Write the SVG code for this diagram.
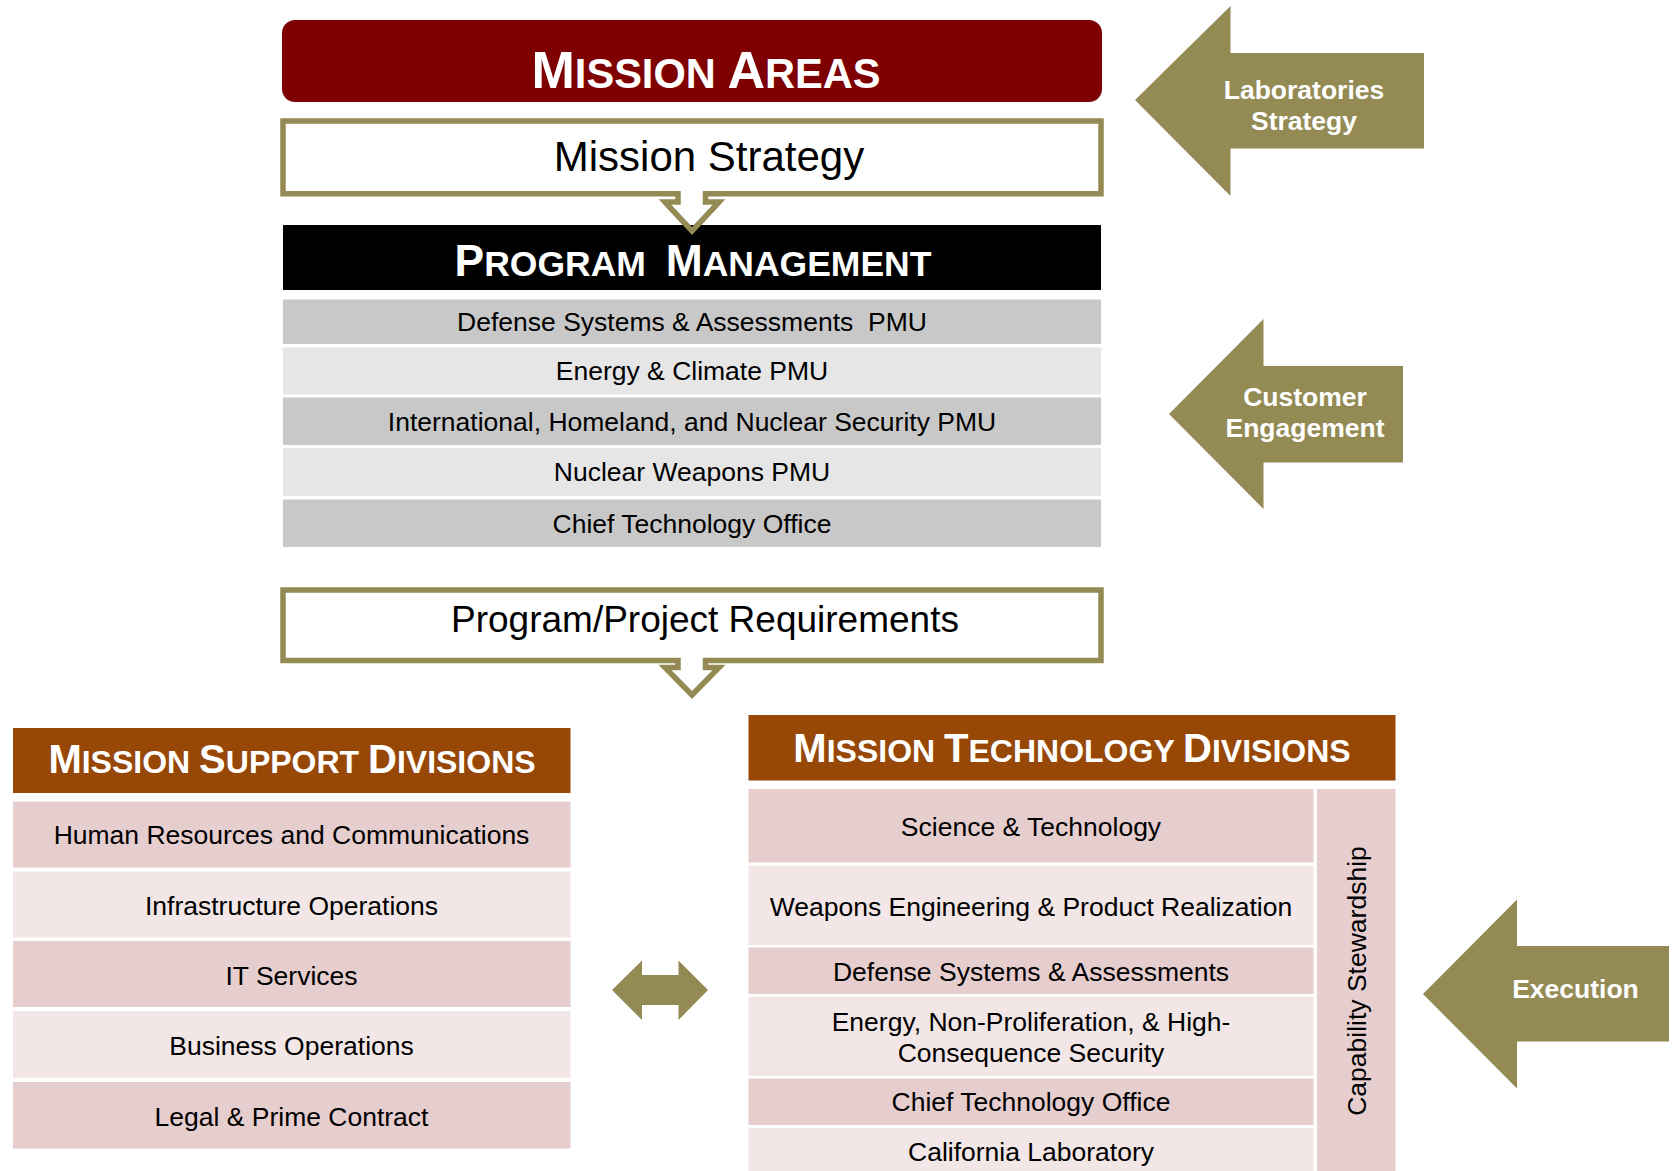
<svg xmlns="http://www.w3.org/2000/svg" width="1674" height="1171" viewBox="0 0 1674 1171">
<style>
text{font-family:"Liberation Sans",Arial,sans-serif;white-space:pre}
.t{font-size:26.5px;fill:#000;text-anchor:middle}
.big{font-weight:bold;fill:#fff;text-anchor:middle}
.lbl{font-weight:bold;fill:#fff;font-size:26.5px;text-anchor:middle}
.gold{fill:#948a54}
.call{fill:#fff;stroke:#948a54;stroke-width:5.5;stroke-linejoin:miter}
.g1{fill:#c8c8c8}.g2{fill:#e6e6e6}
.p1{fill:#e6cdce}.p2{fill:#f2e6e6}
.hdr{fill:#974706}
</style>
<rect width="1674" height="1171" fill="#fff"/>

<g id="mission-areas">
<rect x="282" y="20" width="820" height="82" rx="13" fill="#7f0000"/>
<text class="big" x="706" y="88"><tspan font-size="52">M</tspan><tspan font-size="41.6">ISSION </tspan><tspan font-size="52">A</tspan><tspan font-size="41.6">REAS</tspan></text>
</g>

<g id="mission-strategy">
<path class="call" d="M283,121 H1101 V193.7 H705.5 V202 H719 L692,231 L665,202 H678 V193.7 H283 Z"/>
<text x="709" y="171" font-size="42" text-anchor="middle">Mission Strategy</text>
</g>

<g id="program-management">
<rect x="283" y="225" width="818" height="65" fill="#000"/>
<text class="big" x="693" y="276" xml:space="preserve"><tspan font-size="44.4">P</tspan><tspan font-size="35.5">ROGRAM  </tspan><tspan font-size="44.4">M</tspan><tspan font-size="35.5">ANAGEMENT</tspan></text>
</g>

<g id="connectors">
<path d="M665,202 L692,231 L719,202" fill="none" stroke="#948a54" stroke-width="5.5"/>
<path class="gold" d="M612,990 L642,960.5 V975 H678.5 V960.5 L708,990 L678.5,1020 V1005 H642 V1020 Z"/>
</g>

<g id="pm-rows">
<rect class="g1" x="283" y="299.5" width="818" height="44.5"/>
<text class="t" x="692" y="331" xml:space="preserve">Defense Systems &amp; Assessments  PMU</text>
<rect class="g2" x="283" y="347.5" width="818" height="47"/>
<text class="t" x="692" y="380">Energy &amp; Climate PMU</text>
<rect class="g1" x="283" y="397.5" width="818" height="47.5"/>
<text class="t" x="692" y="430.5">International, Homeland, and Nuclear Security PMU</text>
<rect class="g2" x="283" y="448" width="818" height="48"/>
<text class="t" x="692" y="481">Nuclear Weapons PMU</text>
<rect class="g1" x="283" y="499.5" width="818" height="47.5"/>
<text class="t" x="692" y="532.5">Chief Technology Office</text>
</g>

<g id="program-project-requirements">
<path class="call" d="M283,590 H1101 V660.5 H705.5 V667.5 H719 L692,695 L665,667.5 H678 V660.5 H283 Z"/>
<text x="705" y="632" font-size="37" text-anchor="middle">Program/Project Requirements</text>
</g>

<g id="laboratories-strategy">
<path class="gold" d="M1135,100 L1230.5,6 V53 H1424 V148.5 H1230.5 V196 Z"/>
<text class="lbl" x="1304" y="99">Laboratories</text>
<text class="lbl" x="1304" y="130">Strategy</text>
</g>

<g id="customer-engagement">
<path class="gold" d="M1169,414 L1263.5,319 V366 H1403 V462.5 H1263.5 V509 Z"/>
<text class="lbl" x="1305" y="406">Customer</text>
<text class="lbl" x="1305" y="437">Engagement</text>
</g>

<g id="execution">
<path class="gold" d="M1423,994 L1517,899.5 V946 H1669 V1041.5 H1517 V1088.5 Z"/>
<text class="lbl" x="1575.5" y="998" font-size="23">Execution</text>
</g>

<g id="mission-support-divisions">
<rect class="hdr" x="13" y="728" width="557.5" height="65"/>
<text class="big" x="292" y="773"><tspan font-size="40">M</tspan><tspan font-size="32">ISSION </tspan><tspan font-size="40">S</tspan><tspan font-size="32">UPPORT </tspan><tspan font-size="40">D</tspan><tspan font-size="32">IVISIONS</tspan></text>
<rect class="p1" x="13" y="801.5" width="557.5" height="66"/>
<text class="t" x="291.5" y="844">Human Resources and Communications</text>
<rect class="p2" x="13" y="871.5" width="557.5" height="66"/>
<text class="t" x="291.5" y="914.5">Infrastructure Operations</text>
<rect class="p1" x="13" y="941" width="557.5" height="66"/>
<text class="t" x="291.5" y="984.5">IT Services</text>
<rect class="p2" x="13" y="1011" width="557.5" height="67"/>
<text class="t" x="291.5" y="1055">Business Operations</text>
<rect class="p1" x="13" y="1082" width="557.5" height="66.5"/>
<text class="t" x="291.5" y="1126">Legal &amp; Prime Contract</text>
</g>

<g id="mission-technology-divisions">
<rect class="hdr" x="748.5" y="715" width="647" height="65.5"/>
<text class="big" x="1072" y="762"><tspan font-size="40">M</tspan><tspan font-size="32">ISSION </tspan><tspan font-size="40">T</tspan><tspan font-size="32">ECHNOLOGY </tspan><tspan font-size="40">D</tspan><tspan font-size="32">IVISIONS</tspan></text>
<rect class="p1" x="748.5" y="789" width="565" height="73.5"/>
<text class="t" x="1031" y="835.5">Science &amp; Technology</text>
<rect class="p2" x="748.5" y="865.5" width="565" height="79.5"/>
<text class="t" x="1031" y="915.5">Weapons Engineering &amp; Product Realization</text>
<rect class="p1" x="748.5" y="947.5" width="565" height="46.5"/>
<text class="t" x="1031" y="980.5">Defense Systems &amp; Assessments</text>
<rect class="p2" x="748.5" y="997" width="565" height="79"/>
<text class="t" x="1031" y="1030.5">Energy, Non-Proliferation, &amp; High-</text>
<text class="t" x="1031" y="1062">Consequence Security</text>
<rect class="p1" x="748.5" y="1078.5" width="565" height="46.5"/>
<text class="t" x="1031" y="1111">Chief Technology Office</text>
<rect class="p2" x="748.5" y="1128" width="565" height="47"/>
<text class="t" x="1031" y="1161">California Laboratory</text>
</g>

<g id="capability-stewardship">
<rect class="p1" x="1317" y="789" width="78.5" height="386"/>
<text class="t" transform="translate(1366,981) rotate(-90)" x="0" y="0">Capability Stewardship</text>
</g>
</svg>
